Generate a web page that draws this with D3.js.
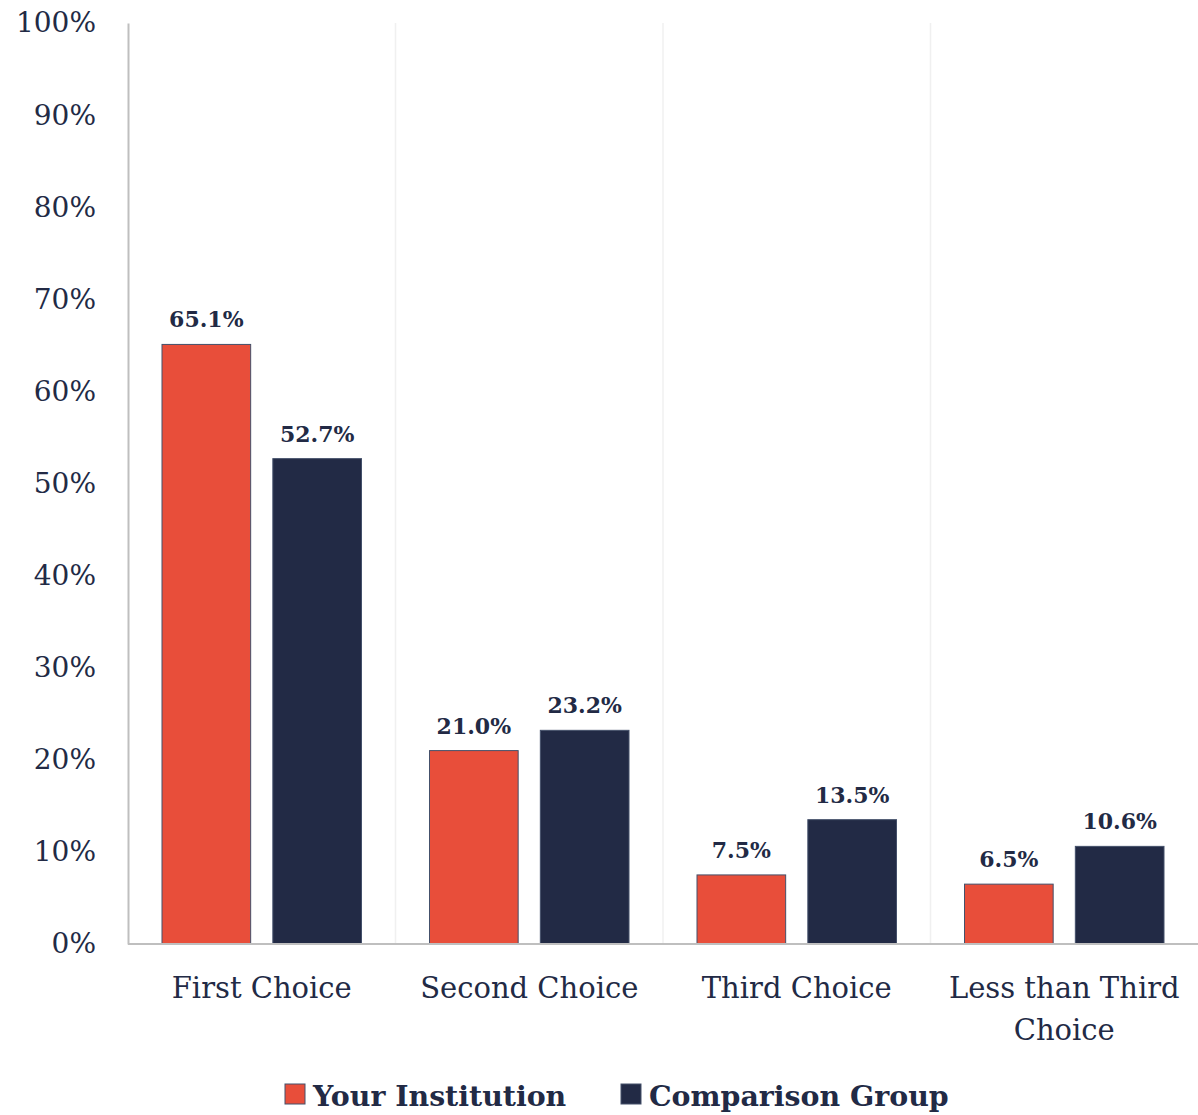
<!DOCTYPE html>
<html>
<head>
<meta charset="utf-8">
<script src="https://cdn.jsdelivr.net/npm/d3@7"></script>
<style>
  body { margin: 0; background: #fff; }
</style>
</head>
<body>
<div id="chart"></div>
<script>
// chart data
const categories = ['First Choice', 'Second Choice', 'Third Choice', 'Less than Third Choice'];
const seriesNames = ['Your Institution', 'Comparison Group'];
const yourInstitution = [65.1, 21.0, 7.5, 6.5];
const comparisonGroup = [52.7, 23.2, 13.5, 10.6];
const yTicks = [0, 10, 20, 30, 40, 50, 60, 70, 80, 90, 100];
const colors = ['#e84e3a', '#222a45'];

const serif = '"DejaVu Serif", serif';
const textColor = '#222a45';

const width = 1198, height = 1115;
const margin = { top: 23, right: 0, bottom: 171, left: 128 };
const innerW = width - margin.left - margin.right;
const innerH = height - margin.top - margin.bottom;

const svg = d3.select('#chart').append('svg')
    .attr('width', width)
    .attr('height', height)
    .attr('font-family', serif);

const chart = svg.append('g')
    .attr('transform', `translate(${margin.left},${margin.top})`);

const xScale = d3.scaleBand()
    .domain(categories)
    .range([0, innerW])
    .paddingInner(0)
    .paddingOuter(0);

const xInner = d3.scaleBand()
    .domain(seriesNames)
    .range([34, xScale.bandwidth() - 34])
    .paddingInner(0.2);

const yScale = d3.scaleLinear()
    .domain([0, 100])
    .range([innerH, 0]);

// light vertical separators between categories
chart.selectAll('.sep')
    .data(categories.slice(1))
  .join('line')
    .attr('class', 'sep')
    .attr('x1', d => xScale(d))
    .attr('x2', d => xScale(d))
    .attr('y1', 0)
    .attr('y2', innerH)
    .attr('stroke', '#f0f0f0')
    .attr('stroke-width', 1.5);

// y axis
const yAxis = d3.axisLeft(yScale)
    .tickValues(yTicks)
    .tickFormat(d => d + '%')
    .tickSize(0)
    .tickPadding(32);

const yAxisGroup = chart.append('g').call(yAxis)
    .attr('font-family', serif);
yAxisGroup.select('.domain')
    .attr('stroke', '#bfbfbf')
    .attr('stroke-width', 2);
yAxisGroup.selectAll('text')
    .attr('font-size', 28)
    .attr('fill', textColor);

// bars
const rows = categories.map((c, i) => ({
    category: c,
    values: [
        { series: seriesNames[0], value: yourInstitution[i], color: colors[0] },
        { series: seriesNames[1], value: comparisonGroup[i], color: colors[1] },
    ],
}));

const groups = chart.selectAll('.cat')
    .data(rows)
  .join('g')
    .attr('class', 'cat')
    .attr('transform', d => `translate(${xScale(d.category)},0)`);

groups.selectAll('rect')
    .data(d => d.values)
  .join('rect')
    .attr('x', d => xInner(d.series))
    .attr('y', d => yScale(d.value))
    .attr('width', xInner.bandwidth())
    .attr('height', d => innerH - yScale(d.value))
    .attr('fill', d => d.color)
    .attr('stroke', '#44506a')
    .attr('stroke-width', 1);

groups.selectAll('.val')
    .data(d => d.values)
  .join('text')
    .attr('class', 'val')
    .attr('x', d => xInner(d.series) + xInner.bandwidth() / 2)
    .attr('y', d => yScale(d.value) - 17)
    .attr('text-anchor', 'middle')
    .attr('font-size', 22)
    .attr('font-weight', 'bold')
    .attr('fill', textColor)
    .text(d => d.value.toFixed(1) + '%');

// x axis line
chart.append('line')
    .attr('x1', 0)
    .attr('x2', innerW)
    .attr('y1', innerH)
    .attr('y2', innerH)
    .attr('stroke', '#bfbfbf')
    .attr('stroke-width', 2);

// category labels (wrap the long one)
const wrapLines = d => d === 'Less than Third Choice' ? ['Less than Third', 'Choice'] : [d];
const catLabels = chart.selectAll('.cat-label')
    .data(categories)
  .join('text')
    .attr('class', 'cat-label')
    .attr('text-anchor', 'middle')
    .attr('font-size', 29)
    .attr('fill', textColor)
    .attr('transform', d => `translate(${xScale(d) + xScale.bandwidth() / 2},${innerH + 54})`);

catLabels.selectAll('tspan')
    .data(d => wrapLines(d))
  .join('tspan')
    .attr('x', 0)
    .attr('dy', (d, i) => i === 0 ? 0 : 42)
    .text(d => d);

// legend
const legend = svg.append('g')
    .attr('transform', `translate(0,${height - 9})`);

const legendX = [285, 621];
const legendItems = legend.selectAll('.leg')
    .data(seriesNames)
  .join('g')
    .attr('class', 'leg')
    .attr('transform', (d, i) => `translate(${legendX[i]},0)`);

legendItems.append('rect')
    .attr('x', 0)
    .attr('y', -22)
    .attr('width', 20)
    .attr('height', 20)
    .attr('fill', (d, i) => colors[i])
    .attr('stroke', '#44506a')
    .attr('stroke-width', 1);

legendItems.append('text')
    .attr('x', 28)
    .attr('y', 0)
    .attr('font-size', 28.4)
    .attr('font-weight', 'bold')
    .attr('fill', textColor)
    .text(d => d);
</script>
</body>
</html>
